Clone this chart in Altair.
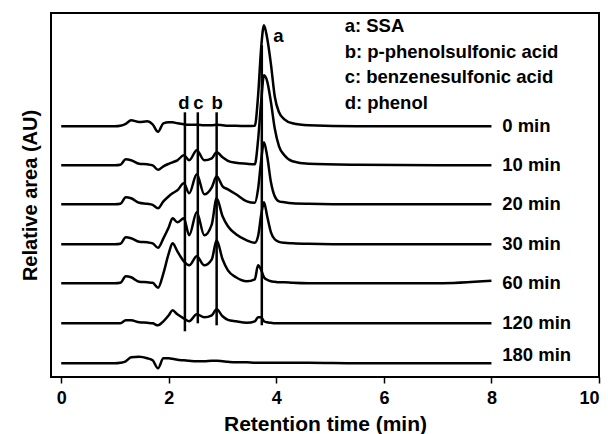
import altair as alt
import pandas as pd

# Retention time grid (min)
X = [0, 1.0, 1.1, 1.2, 1.3, 1.45, 1.6, 1.7, 1.8, 1.9, 2.0, 2.07, 2.16, 2.28, 2.38,
     2.52, 2.66, 2.8, 2.89, 3.0, 3.1, 3.25, 3.45, 3.6, 3.66, 3.72, 3.77, 3.83, 3.9,
     3.97, 4.05, 4.15, 4.3, 4.6, 5.5, 7.0, 8.0]

# Signal (AU) above each trace's baseline
T0 = [0, 0, 0.5, 2.5, 6, 4.3, 5, 2, -5.5, 3, 4, 4, 3, 2, 1.5,
      1.5, 1, 1, 1.5, 1, 0.5, 0.5, 0.3, 0.5, 30, 80, 101, 88, 62,
      30, 14, 7, 3, 1, 0, 0, 0]
T10 = [0, 0, 0.5, 6, 5, 1.5, 1, 0, -4.5, -1, 1.5, 3, 5, 10, 5,
       15, 5, 7, 13, 8, 4.5, 2.5, 1.5, 1, 25, 65, 90, 84, 63,
       37, 19, 10, 4, 1.5, 0.5, 0, 0]
T20 = [0, 0, 0.5, 7, 6, 1.5, 0.5, -0.5, -4, 3, 8, 11, 14, 21, 11,
       30, 10, 17, 28, 18, 15, 10, 3, 1.5, 15, 45, 62, 48, 22,
       8, 3, 2, 1, 0.5, 0, 0, 0]
T30 = [0, 0, 0.5, 7, 6, 2.5, 2, 1, -3.5, 6, 17, 26, 22, 26, 9,
       32, 9, 20, 46, 28, 18, 10, 4, 1.5, 8, 30, 42, 28, 12,
       5, 2.5, 1.5, 1, 0.5, 0, 0, 0]
T60 = [0, 0, 0.5, 7, 6, 1.5, 1, 0.5, -4.5, 10, 30, 40, 32, 22, 18,
       27, 18, 24, 43, 24, 13, 6, 2, 4, 18, 13, 6, 3.5, 2,
       1.5, 1, 1, 0.5, 0, 0, 0, 2.5]
T120 = [0, 0, 0, 3, 3, 1, 0.5, 0, -2, 2, 8, 13, 9, 5, 2,
        9, 6, 8, 14, 7, 3.5, 2, 0.5, 2, 6, 6, 2, 1, 0.5,
        0, 0, 0, 0, 0, 0, 0, 0]
T180 = [0, 0, 0.5, 2, 6, 6.5, 5, 3, -5, 5, 5, 4.5, 3.5, 3, 2.5,
        2, 2, 2.5, 2.5, 2, 1.5, 1, 1, 0.5, 0.5, 0.5, 0.5, 0.5, 0.5,
        0.5, 0.5, 0.5, 0.5, 0.5, 0, 0, 0]

TRACES = [T0, T10, T20, T30, T60, T120, T180]
TIME_LABELS = ["0 min", "10 min", "20 min", "30 min", "60 min", "120 min", "180 min"]
OFFSETS = [237, 198, 159, 119, 80, 40, 0]
LABEL_Y = [237, 198, 159, 119, 80, 40, 8]

# Peak marker lines
PEAK_NAMES = ["d", "c", "b", "a"]
PEAK_X = [2.30, 2.54, 2.89, 3.73]
PEAK_Y_TOP = [251, 251, 251, 318]
PEAK_Y_BOTTOM = [32, 40, 38, 38]
PEAK_LABEL_X = [2.28, 2.55, 2.9, 4.04]
PEAK_LABEL_Y = [260, 260, 260, 327]

LEGEND_LINES = ["a: SSA", "b: p-phenolsulfonic acid", "c: benzenesulfonic acid", "d: phenol"]
LEGEND_Y = [337, 311, 286, 260]
LEGEND_X = 5.27
TIME_LABEL_X = 8.2

rows = []
for name, trace, off in zip(TIME_LABELS, TRACES, OFFSETS):
    for xv, yv in zip(X, trace):
        rows.append({"trace": name, "x": xv, "y": off + yv})
df = pd.DataFrame(rows)

peaks = pd.DataFrame({"name": PEAK_NAMES, "x": PEAK_X, "y": PEAK_Y_BOTTOM, "y2": PEAK_Y_TOP,
                      "lx": PEAK_LABEL_X, "ly": PEAK_LABEL_Y})
tlabels = pd.DataFrame({"label": TIME_LABELS, "x": [TIME_LABEL_X] * 7, "y": LABEL_Y})
legend = pd.DataFrame({"label": LEGEND_LINES, "x": [LEGEND_X] * 4, "y": LEGEND_Y})

FONT = "Liberation Sans"
xscale = alt.Scale(domain=[-0.19, 10], nice=False, zero=False)
yscale = alt.Scale(domain=[-13.7, 350.3], nice=False, zero=False)

lines = alt.Chart(df).mark_line(color="black", strokeWidth=2.5, interpolate="monotone").encode(
    x=alt.X("x:Q", scale=xscale,
            axis=alt.Axis(title="Retention time (min)", values=[0, 2, 4, 6, 8, 10],
                          tickSize=6, tickColor="black", tickWidth=1.5,
                          labelFont=FONT, labelFontSize=18, labelFontWeight="bold",
                          labelColor="black", labelPadding=6, grid=False, domain=False,
                          titleFont=FONT, titleFontSize=21, titleFontWeight="bold",
                          titleColor="black", titlePadding=6)),
    y=alt.Y("y:Q", scale=yscale,
            axis=alt.Axis(title="Relative area (AU)", labels=False, ticks=False, grid=False,
                          domain=False, titleFont=FONT, titleFontSize=20,
                          titleFontWeight="bold", titleColor="black", titlePadding=11)),
    detail="trace:N",
)

rules = alt.Chart(peaks).mark_rule(color="black", strokeWidth=2.5).encode(
    x=alt.X("x:Q", scale=xscale), y=alt.Y("y:Q", scale=yscale), y2="y2:Q")

plabels = alt.Chart(peaks).mark_text(font=FONT, fontSize=18.5, fontWeight="bold",
                                     color="black", align="center", baseline="middle").encode(
    x=alt.X("lx:Q", scale=xscale), y=alt.Y("ly:Q", scale=yscale), text="name:N")

tl = alt.Chart(tlabels).mark_text(font=FONT, fontSize=18.5, fontWeight="bold",
                                  color="black", align="left", baseline="middle").encode(
    x=alt.X("x:Q", scale=xscale), y=alt.Y("y:Q", scale=yscale), text="label:N")

lg = alt.Chart(legend).mark_text(font=FONT, fontSize=18.5, fontWeight="bold",
                                 color="black", align="left", baseline="middle").encode(
    x=alt.X("x:Q", scale=xscale), y=alt.Y("y:Q", scale=yscale), text="label:N")

chart = alt.layer(lines, rules, plabels, tl, lg).properties(
    width=548, height=364,
    background="white",
    autosize=alt.AutoSizeParams(type="none"),
    padding={"left": 51, "top": 13, "right": 9, "bottom": 57},
).configure_view(stroke="black", strokeWidth=2)

chart.save("out.html", embed_options={"renderer": "svg", "actions": False})
